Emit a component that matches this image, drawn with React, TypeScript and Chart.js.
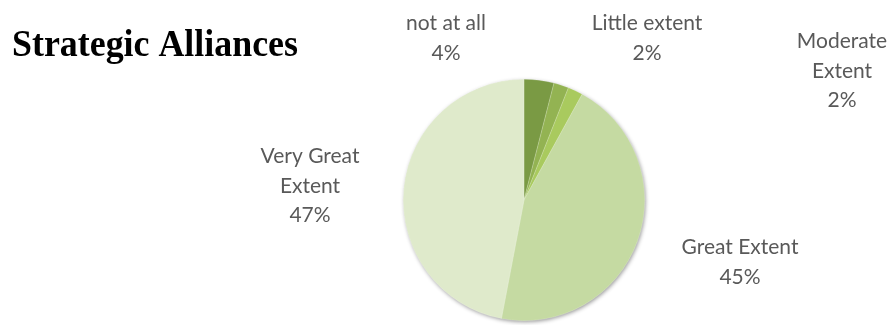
import React, { useEffect, useRef } from "react";
import { Chart, registerables } from "chart.js";

Chart.register(...registerables);

const categories = ["not at all", "Little extent", "Moderate Extent", "Great Extent", "Very Great Extent"];
const values = [4, 2, 2, 45, 47];
const labelLines = [
  ["not at all", "4%"],
  ["Little extent", "2%"],
  ["Moderate", "Extent", "2%"],
  ["Great Extent", "45%"],
  ["Very Great", "Extent", "47%"],
];
const title = "Strategic Alliances";

const colors = ["#7a9a44", "#93b352", "#a9ca5e", "#c5daa2", "#dfeacb"];
// label centre x and first-line baseline y
const labelPos = [
  [446, 30],
  [647, 30],
  [842, 48],
  [740, 254],
  [310, 163],
];

export default function App() {
  const ref = useRef<HTMLCanvasElement>(null);
  useEffect(() => {
    const canvas = ref.current!;
    const plugin = {
      id: "custom",
      beforeDatasetsDraw(chart: any) {
        const meta = chart.getDatasetMeta(0);
        const arc = meta.data[0];
        if (!arc) return;
        const ctx = chart.ctx;
        ctx.save();
        ctx.shadowColor = "rgba(0,0,0,0.45)";
        ctx.shadowBlur = 4;
        ctx.shadowOffsetX = 1;
        ctx.shadowOffsetY = 1.5;
        ctx.beginPath();
        ctx.arc(arc.x, arc.y, arc.outerRadius - 0.5, 0, Math.PI * 2);
        ctx.fillStyle = "#c5daa2";
        ctx.fill();
        ctx.restore();
      },
      afterDraw(chart: any) {
        const ctx = chart.ctx;
        ctx.save();
        ctx.font = "bold 37px 'Liberation Serif', 'Times New Roman', serif";
        ctx.fillStyle = "#000";
        ctx.textBaseline = "alphabetic";
        ctx.textAlign = "left";
        const w = ctx.measureText(title).width;
        ctx.translate(12, 56);
        ctx.scale(286 / w, 1);
        ctx.fillText(title, 0, 0);
        ctx.restore();

        ctx.save();
        ctx.font = "21px Lato, 'Open Sans', sans-serif";
        ctx.fillStyle = "#595959";
        ctx.textAlign = "center";
        ctx.textBaseline = "alphabetic";
        labelLines.forEach((lines, i) => {
          const [x, y] = labelPos[i];
          lines.forEach((t, j) => ctx.fillText(t, x, y + j * 29.5));
        });
        ctx.restore();
      },
    };
    const chart = new Chart(canvas, {
      type: "pie",
      data: {
        labels: categories,
        datasets: [
          {
            data: values,
            backgroundColor: colors,
            borderWidth: 0.5,
            borderColor: "rgba(255,255,255,0.4)",
          },
        ],
      },
      options: {
        responsive: false,
        animation: false,
        layout: { padding: { top: 79, bottom: 4, left: 403, right: 243 } },
        plugins: { legend: { display: false }, tooltip: { enabled: false }, title: { display: false } },
      },
      plugins: [plugin],
    });
    return () => chart.destroy();
  }, []);
  return (
    <div style={{ position: "fixed", left: 0, top: 0, width: 888, height: 325, background: "#fff" }}>
      <canvas ref={ref} width={888} height={325} style={{ width: 888, height: 325 }} />
    </div>
  );
}
